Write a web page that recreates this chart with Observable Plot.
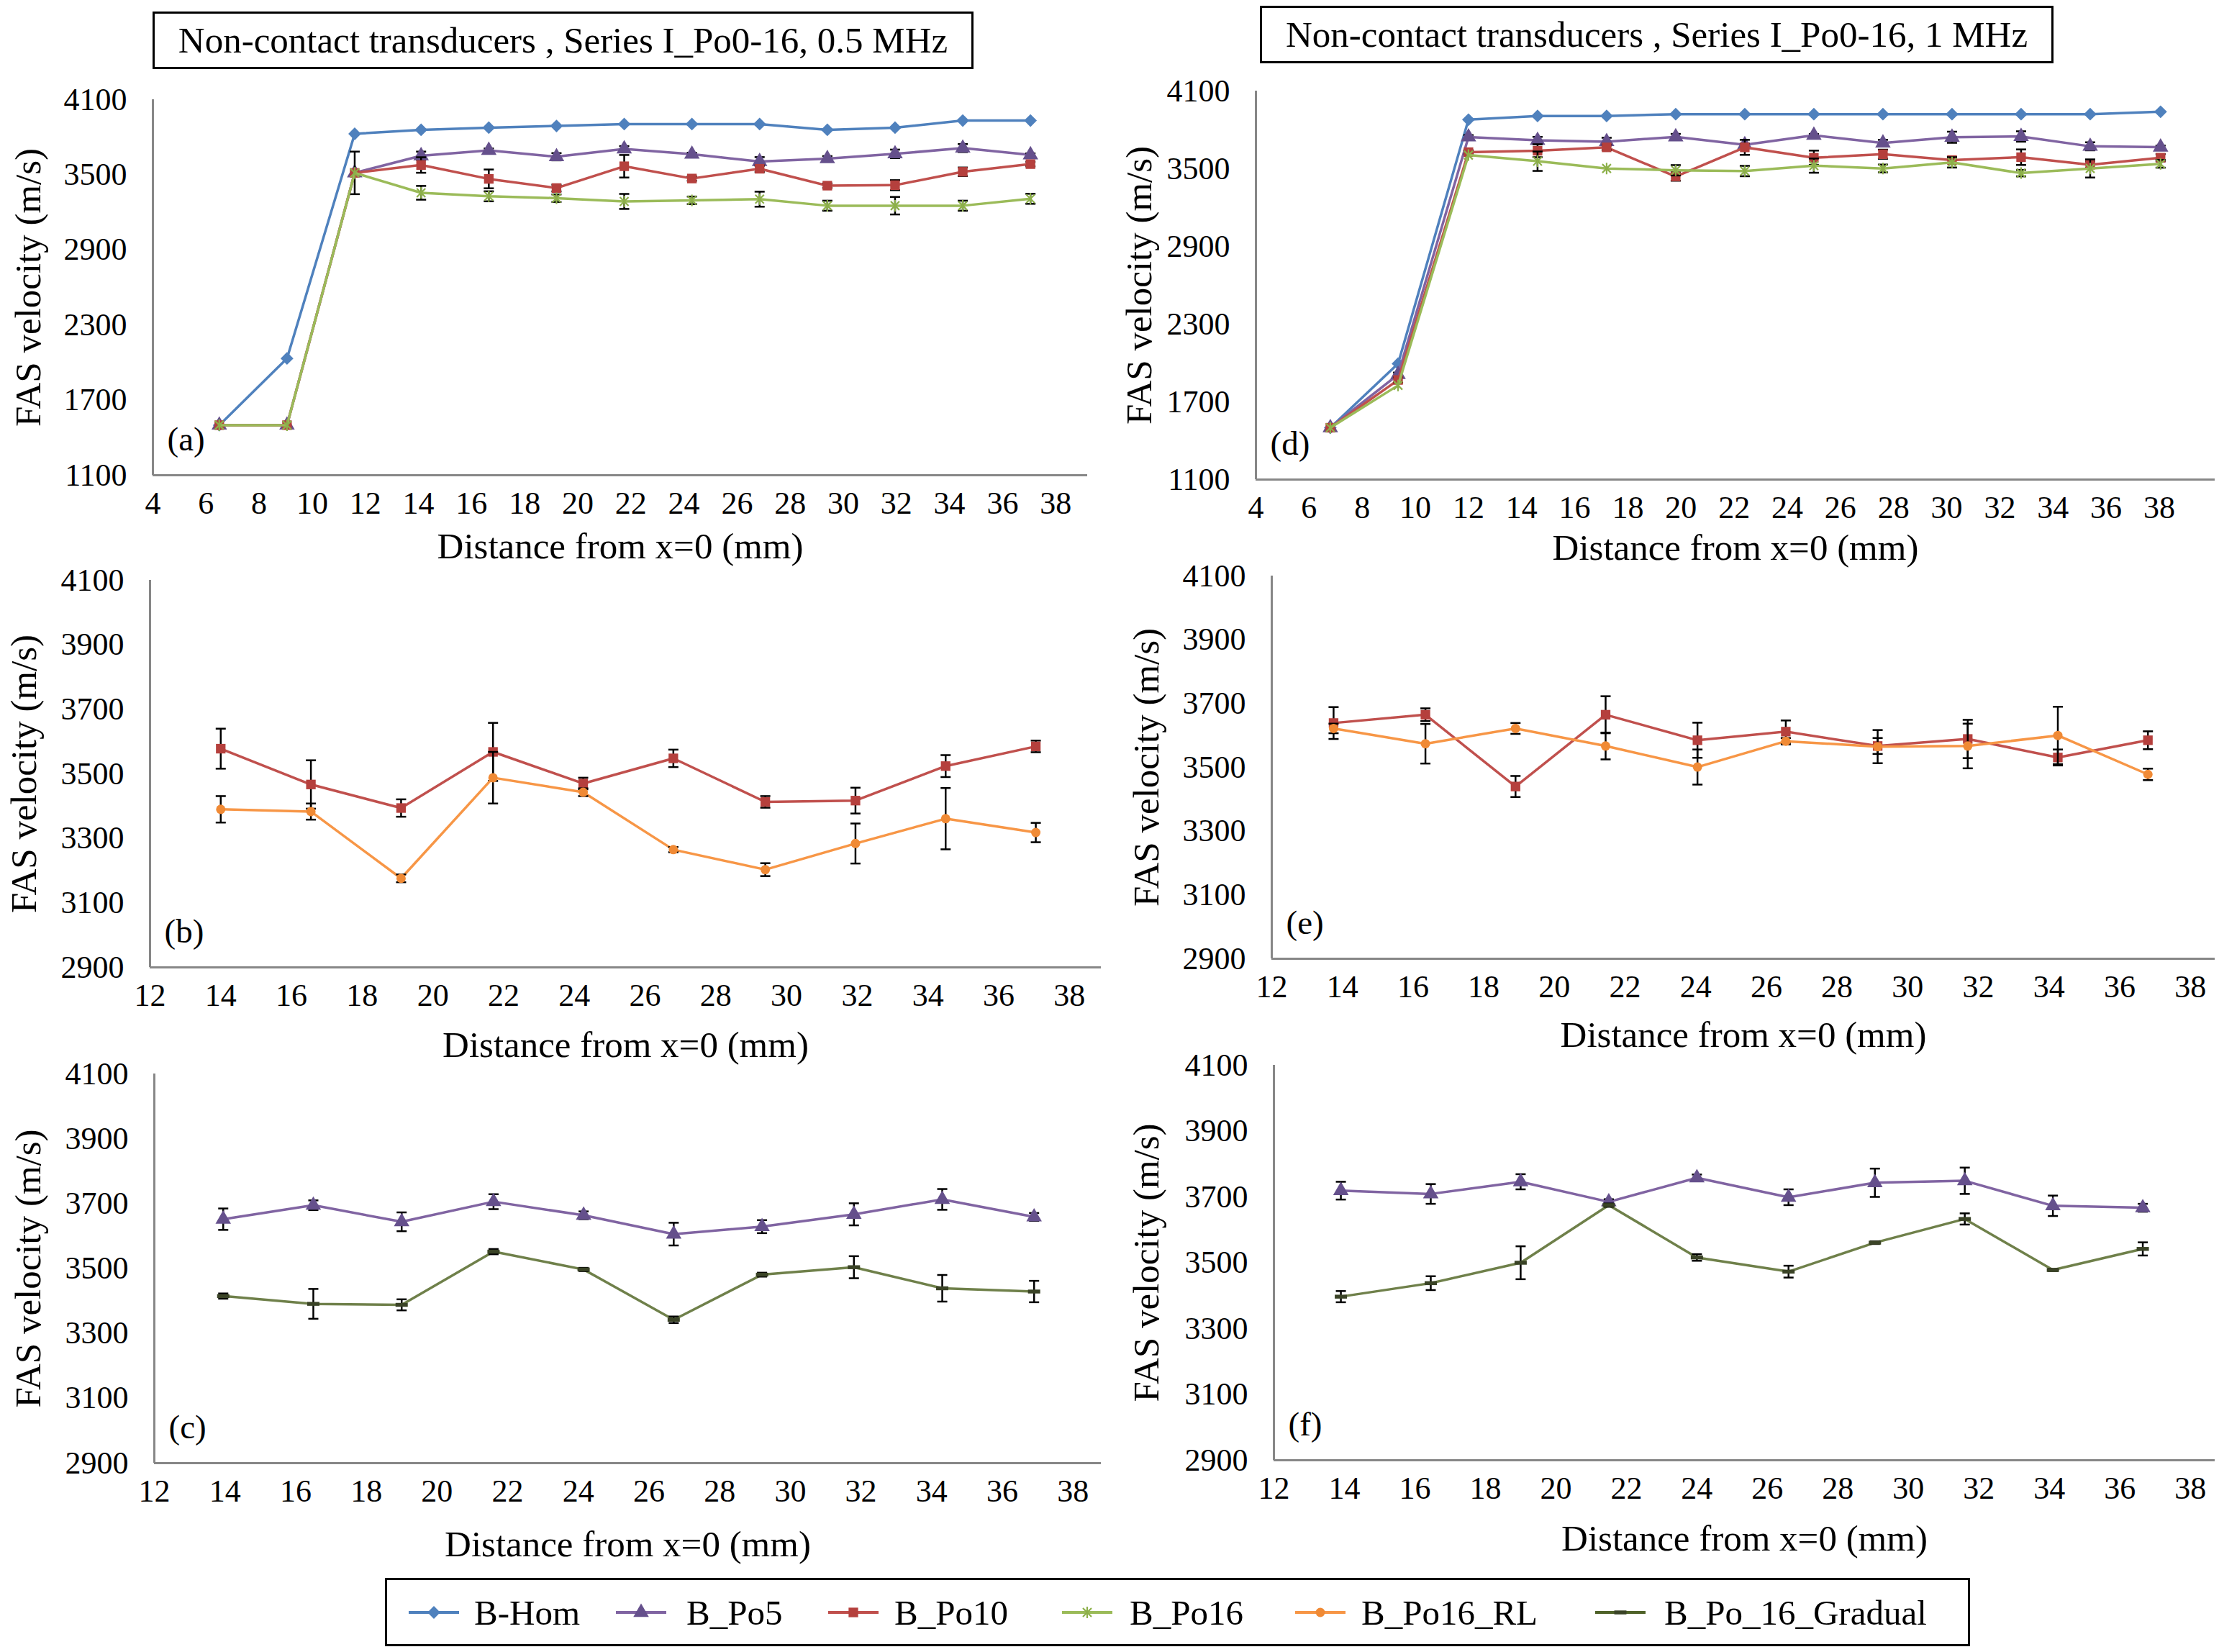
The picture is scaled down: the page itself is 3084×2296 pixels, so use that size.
<!DOCTYPE html>
<html><head><meta charset="utf-8">
<script src="https://cdn.jsdelivr.net/npm/d3@7"></script>
<script src="https://cdn.jsdelivr.net/npm/@observablehq/plot@0.6"></script>
<style>
html,body{margin:0;padding:0;background:#fff;}
#root{position:relative;width:3084px;height:2296px;overflow:hidden;color:#000;}
.tbox{position:absolute;border:3px solid #000;box-sizing:border-box;display:flex;align-items:center;justify-content:center;white-space:nowrap;background:#fff;}
.legend{position:absolute;border:3px solid #000;box-sizing:border-box;background:#fff;}
.ltext{position:absolute;white-space:nowrap;line-height:1;transform:translateY(-50%);}
.lsw{position:absolute;transform:translateY(-50%);}
</style></head><body><div id="root"></div>
<script>
// ---------- tick labels ----------
const xTicksFull = [4,6,8,10,12,14,16,18,20,22,24,26,28,30,32,34,36,38];
const xTicksZoom = [12,14,16,18,20,22,24,26,28,30,32,34,36,38];
const yTicksFull = [1100,1700,2300,2900,3500,4100];
const yTicksZoom = [2900,3100,3300,3500,3700,3900,4100];

// ---------- 0.5 MHz ----------
const xA = [6.5, 9.05, 11.6, 14.1, 16.65, 19.2, 21.75, 24.3, 26.85, 29.4, 31.95, 34.5, 37.05];
const homA = [1500, 2033, 3827, 3859, 3876, 3890, 3905, 3905, 3905, 3859, 3876, 3933, 3933];
const po5A = [1500, 1500, 3515, 3652, 3695, 3644, 3706, 3664, 3606, 3629, 3667, 3713, 3659];
const po5AErr = [0, 0, 0, 33, 15, 29, 23, 12, 35, 20, 34, 32, 12];
const po10A = [1500, 1500, 3515, 3578, 3467, 3394, 3568, 3470, 3548, 3413, 3417, 3524, 3585];
const po10AErr = [0, 0, 170, 62, 75, 27, 90, 18, 27, 18, 40, 34, 18];
const po16A = [1500, 1500, 3515, 3356, 3328, 3313, 3287, 3296, 3305, 3253, 3253, 3253, 3308];
const po16AErr = [0, 0, 0, 55, 40, 30, 60, 30, 60, 40, 70, 40, 40];

const xB = [14.0, 16.55, 19.1, 21.7, 24.25, 26.8, 29.4, 31.95, 34.5, 37.05];
const rlA = [3390, 3383, 3176, 3488, 3443, 3265, 3203, 3284, 3361, 3318];
const rlAErr = [41, 25, 12, 80, 12, 8, 20, 62, 95, 30];

const xC = [13.95, 16.5, 19.0, 21.6, 24.15, 26.7, 29.2, 31.8, 34.3, 36.9];
const gradA = [3415, 3391, 3388, 3552, 3497, 3342, 3481, 3504, 3439, 3429];
const gradAErr = [8, 46, 17, 8, 5, 10, 6, 34, 41, 33];

// ---------- 1 MHz ----------
const xD = [6.8, 9.35, 12.0, 14.6, 17.2, 19.8, 22.4, 25.0, 27.6, 30.2, 32.8, 35.4, 38.05];
const homD = [1500, 1995, 3879, 3907, 3907, 3921, 3921, 3921, 3921, 3921, 3921, 3921, 3940];
const po5D = [1500, 1911, 3745, 3719, 3709, 3746, 3685, 3758, 3699, 3743, 3749, 3673, 3667];
const po5DErr = [0, 15, 15, 27, 30, 23, 8, 10, 24, 43, 40, 31, 12];
const po10D = [1500, 1869, 3628, 3639, 3665, 3440, 3665, 3585, 3612, 3567, 3589, 3531, 3585];
const po10DErr = [0, 20, 15, 50, 20, 33, 58, 55, 35, 25, 60, 25, 28];
const po16D = [1500, 1827, 3605, 3558, 3502, 3488, 3482, 3524, 3502, 3549, 3466, 3502, 3538];
const po16DErr = [0, 0, 0, 75, 0, 40, 40, 55, 30, 40, 25, 70, 30];

const xE = [13.75, 16.35, 18.9, 21.45, 24.05, 26.55, 29.15, 31.7, 34.25, 36.8];
const rlD = [3622, 3574, 3622, 3567, 3501, 3582, 3565, 3567, 3600, 3478];
const rlDErr = [15, 62, 17, 42, 55, 10, 52, 70, 90, 18];

const xF = [13.9, 16.45, 19.0, 21.5, 24.0, 26.6, 29.05, 31.6, 34.1, 36.65];
const gradD = [3397, 3438, 3500, 3675, 3516, 3473, 3561, 3633, 3478, 3542];
const gradDErr = [17, 21, 50, 5, 10, 18, 4, 17, 3, 20];

const seriesNames = ["B-Hom", "B_Po5", "B_Po10", "B_Po16", "B_Po16_RL", "B_Po_16_Gradual"];
const titles = ["Non-contact transducers , Series I_Po0-16, 0.5 MHz", "Non-contact transducers , Series I_Po0-16, 1 MHz"];
const xTitle = "Distance from x=0 (mm)";
const yTitle = "FAS velocity (m/s)";

// ---------- font selection (Times-like serif, widths matched to Times metrics) ----------
function hasFont(name) {
  const c = document.createElement("canvas").getContext("2d");
  const s = "mmmmmmmmmmlli10WQ@#AaBb";
  let diff = false;
  for (const g of ["monospace", "sans-serif"]) {
    c.font = `72px ${g}`; const w1 = c.measureText(s).width;
    c.font = `72px "${name}", ${g}`; const w2 = c.measureText(s).width;
    if (Math.abs(w1 - w2) > 0.5) diff = true;
  }
  return diff;
}
const FONT_NAME = ["Liberation Serif", "Tinos", "Times New Roman", "Nimbus Roman", "FreeSerif", "DejaVu Serif"].find(hasFont) || "serif";
const FONT = FONT_NAME === "serif" ? "serif" : `"${FONT_NAME}", serif`;
const K = (() => {
  const c = document.createElement("canvas").getContext("2d");
  c.font = `100px ${FONT}`;
  const w = c.measureText(xTitle).width; // Times width of this string = 9.979 em
  return Math.max(0.7, Math.min(1.2, 997.9 / w));
})();
const fs = v => v * K;

// ---------- symbols ----------
const capSym = {draw(ctx, size){const r=Math.sqrt(size/Math.PI); ctx.moveTo(-r,0); ctx.lineTo(r,0);}};
const dashSym = {draw(ctx, size){const r=Math.sqrt(size/Math.PI); ctx.rect(-r,-r*0.32,2*r,r*0.64);}};
const starSym = {draw(ctx, size){const r=Math.sqrt(size/Math.PI); const a=r*0.75;
  ctx.moveTo(0,-r); ctx.lineTo(0,r); ctx.moveTo(-a,-a); ctx.lineTo(a,a); ctx.moveTo(-a,a); ctx.lineTo(a,-a);}};

const STY = {
  hom:  {color:"#4F81BD", symbol:"diamond2", d3sym:d3.symbolDiamond2, r:8, fill:"#4F81BD", stroke:"none"},
  po5:  {color:"#8064A2", symbol:"triangle", d3sym:d3.symbolTriangle, r:8, fill:"#65508C", stroke:"none"},
  po10: {color:"#C0504D", symbol:"square", d3sym:d3.symbolSquare, r:7.5, fill:"#B5403D", stroke:"none"},
  po16: {color:"#9BBB59", symbol:starSym, d3sym:starSym, r:8, fill:"none", stroke:"#8DB04A", sw:2.2},
  rl:   {color:"#F79646", symbol:"circle", d3sym:d3.symbolCircle, r:6.5, fill:"#F08A35", stroke:"none"},
  grad: {color:"#6F804A", symbol:dashSym, d3sym:dashSym, r:8.5, fill:"#3A4326", stroke:"none"}
};
const AXIS = "#878787";

function seriesMarks(s) {
  const st = STY[s.style];
  const data = s.x.map((x,i) => ({x, y: s.y[i], e: s.e ? s.e[i] : 0}));
  const eb = data.filter(d => d.e > 0);
  return [
    Plot.line(data, {x:"x", y:"y", stroke: st.color, strokeWidth: 3.5}),
    Plot.ruleX(eb, {x:"x", y1: d => d.y - d.e, y2: d => d.y + d.e, stroke:"#000", strokeWidth: 2.5}),
    Plot.dot(eb, {x:"x", y: d => d.y - d.e, symbol: capSym, r: 7, stroke:"#000", strokeWidth: 2.5, fill:"none"}),
    Plot.dot(eb, {x:"x", y: d => d.y + d.e, symbol: capSym, r: 7, stroke:"#000", strokeWidth: 2.5, fill:"none"}),
    Plot.dot(data, {x:"x", y:"y", symbol: st.symbol, r: st.r, fill: st.fill, stroke: st.stroke, strokeWidth: st.sw || 0})
  ];
}

const panels = [
  {tag:"(a)", left:0, top:100, width:1540, height:720, mL:212, mR:29, mT:38, mB:160,
   xDomain:[4,39.2], yDomain:[1100,4100], xTicks:xTicksFull, yTicks:yTicksFull, xDy:99, yDx:-173,
   series:[{x:xA,y:homA,style:"hom"},{x:xA,y:po5A,e:po5AErr,style:"po5"},{x:xA,y:po10A,e:po10AErr,style:"po10"},{x:xA,y:po16A,e:po16AErr,style:"po16"}]},
  {tag:"(d)", left:1540, top:100, width:1544, height:720, mL:205, mR:6, mT:26, mB:154,
   xDomain:[4,40.1], yDomain:[1100,4100], xTicks:xTicksFull, yTicks:yTicksFull, xDy:95, yDx:-162,
   series:[{x:xD,y:homD,style:"hom"},{x:xD,y:po5D,e:po5DErr,style:"po5"},{x:xD,y:po10D,e:po10DErr,style:"po10"},{x:xD,y:po16D,e:po16DErr,style:"po16"}]},
  {tag:"(b)", left:0, top:780, width:1540, height:700, mL:208, mR:10, mT:26, mB:136,
   xDomain:[12,38.9], yDomain:[2900,4100], xTicks:xTicksZoom, yTicks:yTicksZoom, xDy:108, yDx:-175,
   series:[{x:xB,y:po10A.slice(3),e:po10AErr.slice(3),style:"po10"},{x:xB,y:rlA,e:rlAErr,style:"rl"}]},
  {tag:"(e)", left:1540, top:780, width:1544, height:700, mL:227, mR:6, mT:20, mB:148,
   xDomain:[12,38.7], yDomain:[2900,4100], xTicks:xTicksZoom, yTicks:yTicksZoom, xDy:106, yDx:-174,
   series:[{x:xE,y:po10D.slice(3),e:po10DErr.slice(3),style:"po10"},{x:xE,y:rlD,e:rlDErr,style:"rl"}]},
  {tag:"(c)", left:0, top:1460, width:1540, height:720, mL:214, mR:10, mT:32, mB:147,
   xDomain:[12,38.8], yDomain:[2900,4100], xTicks:xTicksZoom, yTicks:yTicksZoom, xDy:113, yDx:-175,
   series:[{x:xC,y:po5A.slice(3),e:po5AErr.slice(3),style:"po5"},{x:xC,y:gradA,e:gradAErr,style:"grad"}]},
  {tag:"(f)", left:1540, top:1460, width:1544, height:720, mL:230, mR:6, mT:20, mB:151,
   xDomain:[12,38.7], yDomain:[2900,4100], xTicks:xTicksZoom, yTicks:yTicksZoom, xDy:109, yDx:-177,
   series:[{x:xF,y:po5D.slice(3),e:po5DErr.slice(3),style:"po5"},{x:xF,y:gradD,e:gradDErr,style:"grad"}]}
];

const root = document.getElementById("root");
root.style.fontFamily = FONT;

for (const p of panels) {
  const marks = [
    Plot.ruleX([p.xDomain[0]], {stroke: AXIS, strokeWidth: 3}),
    Plot.ruleY([p.yDomain[0]], {stroke: AXIS, strokeWidth: 3})
  ];
  for (const s of p.series) marks.push(...seriesMarks(s));
  marks.push(Plot.text([xTitle], {text: d => d, frameAnchor: "bottom", textAnchor: "middle", dy: p.xDy, fontSize: fs(51), lineAnchor: "middle"}));
  marks.push(Plot.text([yTitle], {text: d => d, frameAnchor: "left", textAnchor: "middle", dx: p.yDx, rotate: -90, fontSize: fs(51), lineAnchor: "middle"}));
  marks.push(Plot.text([p.tag], {text: d => d, frameAnchor: "bottom-left", textAnchor: "start", lineAnchor: "middle", dx: 20, dy: -50, fontSize: fs(47)}));
  const svg = Plot.plot({
    width: p.width, height: p.height,
    marginLeft: p.mL, marginRight: p.mR, marginTop: p.mT, marginBottom: p.mB,
    x: {domain: p.xDomain, ticks: p.xTicks, tickSize: 0, tickPadding: 22, tickFormat: d => String(d), label: null},
    y: {domain: p.yDomain, ticks: p.yTicks, tickSize: 0, tickPadding: 36, tickFormat: d => String(d), label: null},
    style: {fontFamily: FONT, fontSize: fs(44) + "px", background: "transparent", color: "#000", overflow: "visible"},
    marks
  });
  svg.style.position = "absolute";
  svg.style.left = p.left + "px";
  svg.style.top = p.top + "px";
  root.appendChild(svg);
}

// ---------- title boxes ----------
const tboxes = [{text: titles[0], left:212, top:16, width:1141, height:80}, {text: titles[1], left:1751, top:8, width:1103, height:80}];
for (const t of tboxes) {
  const d = document.createElement("div");
  d.className = "tbox";
  Object.assign(d.style, {left:t.left+"px", top:t.top+"px", width:t.width+"px", height:t.height+"px", fontSize: fs(51)+"px"});
  d.textContent = t.text;
  root.appendChild(d);
}

// ---------- legend ----------
const lg = document.createElement("div");
lg.className = "legend";
Object.assign(lg.style, {left:"535px", top:"2193px", width:"2203px", height:"95px"});
root.appendChild(lg);
const legendKeys = ["hom","po5","po10","po16","rl","grad"];
const swLeft = [568, 856, 1151, 1476, 1800, 2217];
const txLeft = [659, 954, 1243, 1570, 1892, 2313];
const legY = 2241;
legendKeys.forEach((k, i) => {
  const st = STY[k];
  const w = 70, h = 30;
  const sv = d3.create("svg").attr("width", w).attr("height", h).attr("class","lsw")
    .style("left", swLeft[i]+"px").style("top", legY+"px").style("overflow","visible");
  sv.append("line").attr("x1",0).attr("x2",w).attr("y1",h/2).attr("y2",h/2)
    .attr("stroke", k === "grad" ? "#4F6228" : st.color).attr("stroke-width",4);
  sv.append("path").attr("transform",`translate(${w/2},${h/2})`)
    .attr("d", d3.symbol(st.d3sym, st.r*st.r*Math.PI)())
    .attr("fill", st.fill).attr("stroke", st.stroke).attr("stroke-width", st.sw || 0);
  root.appendChild(sv.node());
  const t = document.createElement("div");
  t.className = "ltext";
  t.style.left = txLeft[i] + "px";
  t.style.top = legY + "px";
  t.style.fontSize = fs(49) + "px";
  t.textContent = seriesNames[i];
  root.appendChild(t);
});
</script></body></html>
